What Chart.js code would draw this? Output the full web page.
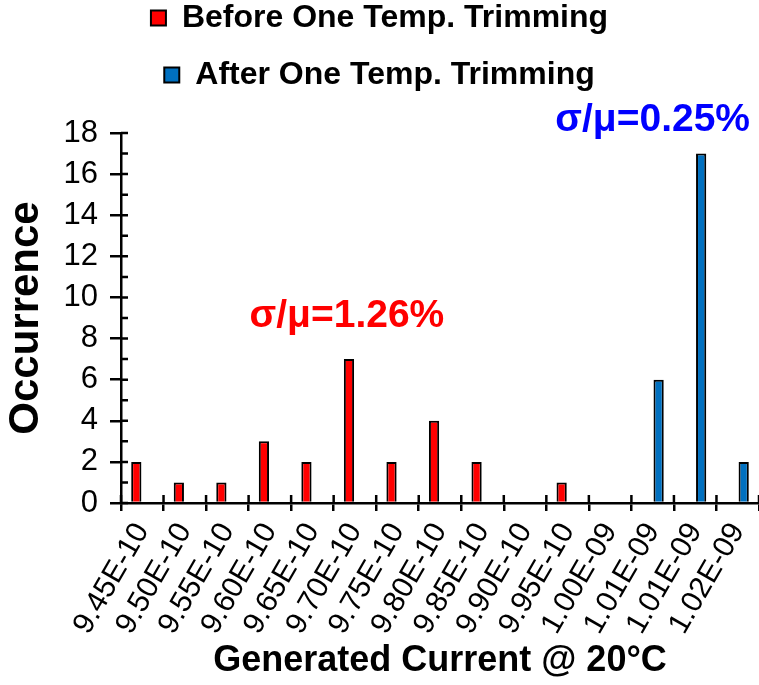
<!DOCTYPE html>
<html><head><meta charset="utf-8">
<script src="https://cdn.jsdelivr.net/npm/chart.js@4/dist/chart.umd.min.js"></script>
<style>html,body{margin:0;padding:0;background:#fff}#c{display:block}</style>
</head><body>
<canvas id="c" width="759" height="685"></canvas>
<script>
const categories = ['9.45E-10','9.50E-10','9.55E-10','9.60E-10','9.65E-10','9.70E-10','9.75E-10','9.80E-10','9.85E-10','9.90E-10','9.95E-10','1.00E-09','1.01E-09','1.01E-09','1.02E-09'];
const beforeValues = [2,1,1,3,2,7,2,4,2,0,1,0,0,0,0];
const afterValues  = [0,0,0,0,0,0,0,0,0,0,0,0,6,17,2];
const seriesNames = ['Before One Temp. Trimming','After One Temp. Trimming'];
const yTickValues = [0,2,4,6,8,10,12,14,16,18];
const annotationTexts = ['σ/μ=1.26%','σ/μ=0.25%'];

const FONT = "'Liberation Sans', Arial, sans-serif";

const innerTicks = {
  id: 'innerTicks',
  afterDraw(chart) {
    const {ctx, chartArea, scales: {x, y}} = chart;
    ctx.save();
    ctx.strokeStyle = '#000';
    ctx.lineWidth = 2.5;
    ctx.beginPath();
    for (let i = 0; i <= categories.length; i++) {
      const px = x.getPixelForValue(i - 0.5);
      ctx.moveTo(px, chartArea.bottom);
      ctx.lineTo(px, chartArea.bottom - 8);
    }
    for (let v = y.min; v <= y.max; v += 1) {
      const py = y.getPixelForValue(v);
      ctx.moveTo(chartArea.left, py);
      ctx.lineTo(chartArea.left + 7, py);
    }
    ctx.stroke();
    ctx.restore();
  }
};

const annotationsPlugin = {
  id: 'sigmaLabels',
  afterDraw(chart) {
    const {ctx, scales: {x, y}} = chart;
    ctx.save();
    ctx.font = 'bold 39px ' + FONT;
    ctx.textAlign = 'center';
    ctx.textBaseline = 'middle';
    ctx.fillStyle = '#FF0000';
    ctx.fillText(annotationTexts[0], x.getPixelForValue(5) - 8, y.getPixelForValue(9.1));
    ctx.fillStyle = '#0000FF';
    ctx.fillText(annotationTexts[1], x.getPixelForValue(12), y.getPixelForValue(18.6));
    ctx.restore();
  }
};

new Chart(document.getElementById('c'), {
  type: 'bar',
  data: {
    labels: categories,
    datasets: [
      {label: seriesNames[0], data: beforeValues, backgroundColor: '#FF0000', borderColor: '#000', borderWidth: 2,
       categoryPercentage: 0.56, barPercentage: 0.86},
      {label: seriesNames[1], data: afterValues, backgroundColor: '#0070C0', borderColor: '#000', borderWidth: 2,
       categoryPercentage: 0.56, barPercentage: 0.86}
    ]
  },
  plugins: [innerTicks, annotationsPlugin],
  options: {
    responsive: false,
    animation: false,
    layout: {padding: {top: -23, left: 0, right: 0, bottom: 0}},
    plugins: {
      legend: {
        position: 'top',
        labels: {color: '#000', font: {family: FONT, size: 32, weight: 'bold'}, boxWidth: 15, boxHeight: 15, padding: 25}
      },
      title: {display: true, text: '', weight: 500, font: {size: 10, lineHeight: 1}, padding: {top: 0, bottom: 22}},
      tooltip: {enabled: false}
    },
    scales: {
      x: {
        offset: true,
        grid: {display: true, drawOnChartArea: false, offset: true, tickLength: 8, color: '#000', lineWidth: 2.5},
        border: {display: true, color: '#000', width: 2.5},
        ticks: {color: '#000', font: {family: FONT, size: 30}, minRotation: 60, maxRotation: 60, padding: 6, autoSkip: false},
        title: {display: true, text: 'Generated Current @ 20°C', color: '#000', font: {family: FONT, size: 36, weight: 'bold'}, padding: {top: 0, bottom: 2}},
        afterFit(s) { s.height = 182; s.paddingRight = 0; s.paddingLeft = 0; }
      },
      y: {
        min: 0, max: 18,
        afterBuildTicks(s) { s.ticks = yTickValues.map(v => ({value: v})); },
        grid: {display: true, drawOnChartArea: false, tickLength: 11, color: '#000', lineWidth: 2.5},
        border: {display: true, color: '#000', width: 2.5},
        ticks: {color: '#000', font: {family: FONT, size: 31}, padding: 12},
        title: {display: true, text: 'Occurrence', color: '#000', font: {family: FONT, size: 42, weight: 'bold'}, padding: {top: 1, bottom: 0}},
        afterFit(s) { s.width = 121; }
      }
    }
  }
});
</script>
</body></html>
